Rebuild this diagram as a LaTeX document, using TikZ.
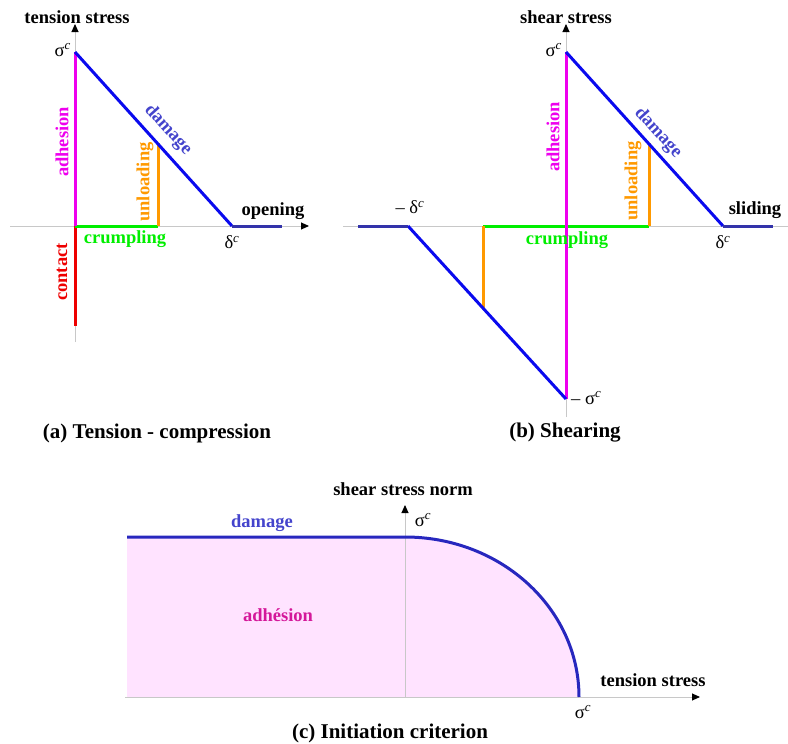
\documentclass[tikz,border=0pt]{standalone}
\usepackage{fontspec}
\setmainfont{Liberation Serif}
\usetikzlibrary{arrows.meta}
\definecolor{cmag}{HTML}{EE00EE}
\definecolor{cblue}{HTML}{0A0AEE}
\definecolor{cnavy}{HTML}{3333AA}
\definecolor{corange}{HTML}{FF9900}
\definecolor{cgreen}{HTML}{00EE00}
\definecolor{cred}{HTML}{EE0000}
\definecolor{cdlab}{HTML}{4444CC}
\definecolor{cadh}{HTML}{D4189A}
\definecolor{cfill}{HTML}{FFE3FF}
\definecolor{caxis}{HTML}{C8C8C8}
\tikzset{
  axisline/.style={draw=caxis, line width=0.9pt},
  axisarrow/.style={axisline, -{Triangle[length=8pt,width=7pt,fill=black,color=black]}},
  seg/.style={line width=3pt},
  lab/.style={font=\fontsize{18.5}{20}\selectfont\bfseries, inner sep=0pt},
  sym/.style={font=\fontsize{18.5}{20}\selectfont, inner sep=0pt},
  captxt/.style={font=\fontsize{21}{24}\selectfont\bfseries, inner sep=0pt},
}
\newcommand{\sigc}{σ\textsuperscript{\itshape c}}
\newcommand{\delc}{δ\textsuperscript{\itshape c}}
\begin{document}
\begin{tikzpicture}[x=1pt,y=-1pt]
\useasboundingbox (0,0) rectangle (788,744);
%%%%%%%%%% (a)
\coordinate (aO) at (75,226);
\coordinate (aTop) at (75,24);
\coordinate (aBot) at (75,342);
\coordinate (aL) at (10,226);
\coordinate (aR) at (309,226);
\coordinate (aS) at (75,52);
\coordinate (aD) at (232,226);
\coordinate (aDE) at (282,226);
\coordinate (aU) at (158,143);
\coordinate (aUB) at (158,226);
\coordinate (aC) at (75,326);
\draw[axisarrow] (aBot) -- (aTop);
\draw[axisarrow] (aL) -- (aR);
\draw[seg, cred] (aO) -- (aC);
\draw[seg, cgreen] (aO) -- (aUB);
\draw[seg, corange] (aUB) -- (aU);
\draw[seg, cmag] (aO) -- (aS);
\draw[seg, cblue] (aS) -- (aD);
\draw[seg, cnavy] (aD) -- (aDE);
\node[lab] (aTitle) at (77,17) {tension stress};
\node[sym, anchor=east] (aSig) at (71,50) {\sigc};
\node[lab, cmag, rotate=90] (aAdh) at (62,142) {adhesion};
\node[lab, cdlab, rotate=-48] (aDam) at (168,130) {damage};
\node[lab, corange, rotate=90] (aUnl) at (145,182) {unloading};
\node[lab] (aOpen) at (273,211) {opening};
\node[sym] (aDel) at (232,242) {\delc};
\node[lab, cgreen] (aCru) at (125,239) {crumpling};
\node[lab, cred, rotate=90] (aCon) at (62,272) {contact};
\node[captxt] (aCap) at (157,433) {(a) Tension - compression};
%%%%%%%%%% (b)
\coordinate (bO) at (566,226);
\coordinate (bTop) at (566,24);
\coordinate (bBot) at (566,417);
\coordinate (bL) at (343,226);
\coordinate (bR) at (788,226);
\coordinate (bS) at (566,52);
\coordinate (bSn) at (566,399);
\coordinate (bD) at (723,226);
\coordinate (bDE) at (773,226);
\coordinate (bDn) at (408,226);
\coordinate (bDnE) at (358,226);
\coordinate (bU) at (649,143);
\coordinate (bUB) at (649,226);
\coordinate (bV) at (483,309);
\coordinate (bVB) at (483,226);
\draw[axisarrow] (bBot) -- (bTop);
\draw[axisline] (bL) -- (bR);
\draw[seg, cgreen] (bVB) -- (bUB);
\draw[seg, corange] (bUB) -- (bU);
\draw[seg, corange] (bVB) -- (bV);
\draw[seg, cmag] (bSn) -- (bS);
\draw[seg, cblue] (bS) -- (bD);
\draw[seg, cblue] (bDn) -- (bSn);
\draw[seg, cnavy] (bD) -- (bDE);
\draw[seg, cnavy] (bDnE) -- (bDn);
\node[lab] (bTitle) at (566,17) {shear stress};
\node[sym, anchor=east] (bSig) at (562,50) {\sigc};
\node[lab, cmag, rotate=90] (bAdh) at (553,137) {adhesion};
\node[lab, cdlab, rotate=-48] (bDam) at (658,133) {damage};
\node[lab, corange, rotate=90] (bUnl) at (633,181) {unloading};
\node[lab] (bSlide) at (755,210) {sliding};
\node[sym] (bmDel) at (410,207) {– \delc};
\node[sym] (bDel) at (723,242) {\delc};
\node[lab, cgreen] (bCru) at (567,240) {crumpling};
\node[sym, anchor=west] (bmSig) at (571,398) {– \sigc};
\node[captxt] (bCap) at (565,433) {(b) Shearing};
%%%%%%%%%% (c)
\coordinate (cO) at (405,697);
\coordinate (cTop) at (405,505);
\coordinate (cL) at (125,697);
\coordinate (cR) at (700,697);
\coordinate (cA) at (127,537);
\coordinate (cB) at (405,537);
\coordinate (cE) at (579,697);
\coordinate (cF) at (127,697);
\fill[cfill] (cA) -- (cB) .. controls (501.1,537) and (579,608.6) .. (cE) -- (cF) -- cycle;
\draw[axisarrow] (cO) -- (cTop);
\draw[axisarrow] (cL) -- (cR);
\draw[seg, cnavy!70!cblue] (cA) -- (cB) .. controls (501.1,537) and (579,608.6) .. (cE);
\node[lab] (cTitle) at (403,489) {shear stress norm};
\node[sym] (cSig) at (423,520) {\sigc};
\node[lab, cdlab] (cDam) at (262,523) {damage};
\node[lab, cadh] (cAdh) at (278,615) {adhésion};
\node[lab] (cTen) at (653,680) {tension stress};
\node[sym] (cSig2) at (583,712) {\sigc};
\node[captxt] (cCap) at (390,733) {(c) Initiation criterion};
\end{tikzpicture}
\end{document}
